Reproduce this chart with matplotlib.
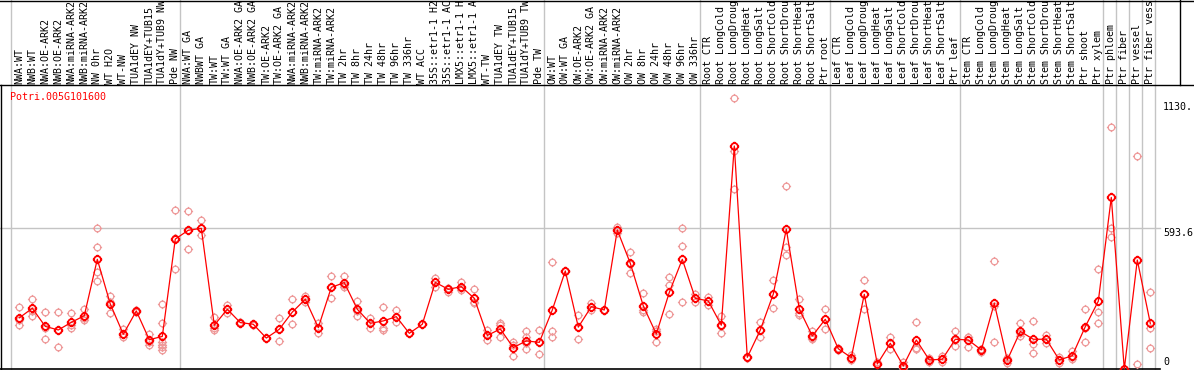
import matplotlib
matplotlib.use("Agg")
import matplotlib.pyplot as plt
from matplotlib.path import Path
import numpy as np

# ---------------- data ----------------
gene_name = "Potri.005G101600"

labels = ["NWA:WT", "NWB:WT", "NWA:OE-ARK2", "NWB:OE-ARK2", "NWA:miRNA-ARK2",
          "NWB:miRNA-ARK2", "NW 0hr", "WT H2O", "WT-NW", "TUA1dEY NW",
          "TUA1dEY+TUB15", "TUA1dY+TUB9 NW", "Pde NW", "NWA:WT GA", "NWBWT GA",
          "TW:WT", "TW:WT GA", "NWA:OE-ARK2 GA", "NWB:OE-ARK2 GA", "TW:OE-ARK2",
          "TW:OE-ARK2 GA", "NWA:miRNA-ARK2", "NWB:miRNA-ARK2", "TW:miRNA-ARK2",
          "TW:miRNA-ARK2", "TW 2hr", "TW 8hr", "TW 24hr", "TW 48hr", "TW 96hr",
          "TW 336hr", "WT ACC", "35S::etr1-1 H2", "35S::etr1-1 AC",
          "LMX5::etr1-1 H", "LMX5::etr1-1 A", "WT-TW", "TUA1dEY TW",
          "TUA1dEY+TUB15", "TUA1dY+TUB9 TW", "Pde TW", "OW:WT", "OW:WT GA",
          "OW:OE-ARK2", "OW:OE-ARK2 GA", "OW:miRNA-ARK2", "OW:miRNA-ARK2",
          "OW 2hr", "OW 8hr", "OW 24hr", "OW 48hr", "OW 96hr", "OW 336hr",
          "Root CTR", "Root LongCold", "Root LongDroug", "Root LongHeat",
          "Root LongSalt", "Root ShortCold", "Root ShortDrou", "Root ShortHeat",
          "Root ShortSalt", "Ptr root", "Leaf CTR", "Leaf LongCold",
          "Leaf LongDroug", "Leaf LongHeat", "Leaf LongSalt", "Leaf ShortCold",
          "Leaf ShortDrou", "Leaf ShortHeat", "Leaf ShortSalt", "Ptr leaf",
          "Stem CTR", "Stem LongCold", "Stem LongDroug", "Stem LongHeat",
          "Stem LongSalt", "Stem ShortCold", "Stem ShortDrou", "Stem ShortHeat",
          "Stem ShortSalt", "Ptr shoot", "Ptr xylem", "Ptr phloem", "Ptr fiber",
          "Ptr vessel", "Ptr fiber vess"]

means = [215, 255, 179, 164, 196, 224, 461, 273, 146, 244,
         123, 137, 546, 583, 591, 184, 251, 195, 188, 130,
         167, 239, 293, 174, 343, 363, 251, 192, 202, 220,
         150, 188, 364, 335, 346, 297, 141, 168, 90, 118,
         112, 248, 412, 176, 262, 248, 584, 444, 265, 147,
         322, 461, 297, 286, 184, 937, 49, 164, 315, 588,
         252, 139, 209, 85, 48, 314, 21, 108, 13, 122,
         38, 41, 125, 122, 80, 276, 38, 158, 125, 125,
         38, 56, 178, 285, 721, 0, 458, 192]

replicates = [
    [259, 186, 206], [294, 224, 242], [238, 126, 173], [238, 91, 164],
    [234, 171, 185], [251, 206, 213], [591, 511, 409, 371], [307, 234, 280],
    [168, 136, 146], [250, 244, 238], [148, 112, 101, 123],
    [272, 193, 112, 101, 91, 81], [667, 419, 552], [664, 503, 583],
    [626, 562, 591], [218, 164, 171], [269, 234, 251], [192, 198, 195],
    [188, 185, 191], [130, 130, 130], [213, 116, 167], [294, 188, 239],
    [307, 293, 280], [192, 150, 174], [391, 297, 343], [391, 346, 352],
    [286, 224, 243], [213, 171, 192], [259, 164, 174], [248, 196, 220],
    [150, 150, 150], [188, 188, 188], [384, 346, 364], [335, 325, 340],
    [367, 332, 340], [335, 276, 280], [164, 122, 141], [192, 136, 185],
    [101, 56, 112], [160, 136, 108, 84, 118], [164, 62, 112], [451, 160, 136],
    [412, 412, 412], [227, 126, 176], [276, 262, 248], [248, 248, 248],
    [598, 570, 584], [490, 402, 440], [318, 241, 250], [168, 112, 160],
    [388, 353, 231], [591, 517, 280], [315, 280, 297], [301, 269, 286],
    [223, 150, 180], [1137, 916, 755], [49, 45, 52], [196, 133, 164],
    [374, 255, 315], [770, 514, 479], [293, 227, 236], [161, 125, 131],
    [252, 167, 209], [88, 81, 86], [59, 38, 48], [374, 252, 316],
    [21, 21, 28], [133, 83, 108], [31, 5, 3], [196, 83, 88], [45, 31, 38],
    [56, 31, 41], [158, 98, 120], [136, 94, 136], [86, 73, 80],
    [452, 112, 264], [48, 24, 38], [192, 140, 150], [202, 69, 104],
    [143, 108, 125], [52, 27, 38], [76, 52, 40], [251, 112, 171],
    [419, 238, 192], [1016, 591, 553], [0, 0, 0], [895, 20, 459],
    [325, 171, 90],
]

group_ends = [-1, 12, 40, 52, 62, 72, 83, 84, 85, 86, 87]
ytick_values = [1130, 593.6, 0]
ytick_labels = ["1130.", "593.6", "0"]

# ---------------- layout ----------------
W, H = 1194, 370
fig = plt.figure(figsize=(W / 100, H / 100), dpi=100)
ax = fig.add_axes([0, 0, 1, 1])
ax.set_axis_off()

X0, DX = 19.3, 13.0          # pixel position of category 0, spacing
Y0, SY = 369.0, 0.238        # pixel row of value 0, pixels per unit
ax.set_xlim((0 - X0) / DX, (W - X0) / DX)
ax.set_ylim((Y0 - H) / SY, Y0 / SY)


def vy(py):
    return (Y0 - py) / SY


def fx(px):
    return px / W


def fy(py):
    return 1 - py / H


mono = "DejaVu Sans Mono"
fs = 7.2
grey = "#c4c4c4"

# custom marker: circle with four small ticks
circ = Path.unit_circle()
tick_len = 1.4
ticks = []
for dx, dy in [(1, 0), (-1, 0), (0, 1), (0, -1)]:
    ticks.append(Path([(dx, dy), (dx * tick_len, dy * tick_len)],
                      [Path.MOVETO, Path.LINETO]))
marker = Path.make_compound_path(circ, *ticks)

# group separators (vertical grey lines)
for k in group_ends:
    ax.axvline(k + 0.37, color=grey, lw=1.0, zorder=1)

# horizontal grid line at 593.6
ax.plot([(0 - X0) / DX, (1160 - X0) / DX], [593.6, 593.6], color=grey,
        lw=1.0, zorder=1)

# frame lines
ax.plot([fx(0), fx(W)], [fy(85), fy(85)], transform=ax.transAxes, color="black",
        lw=1.0, zorder=3)
ax.plot([fx(0), fx(W)], [fy(0.5), fy(0.5)], transform=ax.transAxes, color="black",
        lw=1.0, zorder=3)
ax.plot([fx(1180), fx(1180)], [fy(0), fy(85)], transform=ax.transAxes,
        color="black", lw=1.0, zorder=3)
ax.plot([fx(1), fx(1)], [fy(85), fy(370)], transform=ax.transAxes, color="black",
        lw=1.0, zorder=3)
ax.plot([fx(0), fx(1160)], [fy(369), fy(369)], transform=ax.transAxes,
        color="black", lw=1.2, zorder=3)

x = np.arange(len(means))

# replicates
for i, vals in enumerate(replicates):
    ax.plot([i] * len(vals), vals, linestyle="none", marker=marker,
            markersize=6.6, markerfacecolor="none", markeredgecolor="#ee9a9a",
            markeredgewidth=0.9, zorder=4)

# means
ax.plot(x, means, color="#ff0000", lw=0.9, zorder=5)
ax.plot(x, means, linestyle="none", marker=marker, markersize=6.8,
        markerfacecolor="none", markeredgecolor="#ff0000", markeredgewidth=1.3,
        zorder=6)

# category labels
for i, lab in enumerate(labels):
    ax.text(i, vy(83.5), lab, rotation=90, ha="center", va="bottom",
            family=mono, fontsize=fs, color="black", zorder=7)

# gene name
ax.text(fx(10), fy(97.5), gene_name, transform=ax.transAxes, ha="left",
        va="center", family=mono, fontsize=fs, color="#ff0000", zorder=7)

# y tick labels on the right
ypos = [107, 232.5, 362]
for lab, py in zip(ytick_labels, ypos):
    ax.text(fx(1163), fy(py), lab, transform=ax.transAxes, ha="left",
            va="center", family=mono, fontsize=fs, color="black", zorder=7)

fig.savefig("out.png", dpi=100)
